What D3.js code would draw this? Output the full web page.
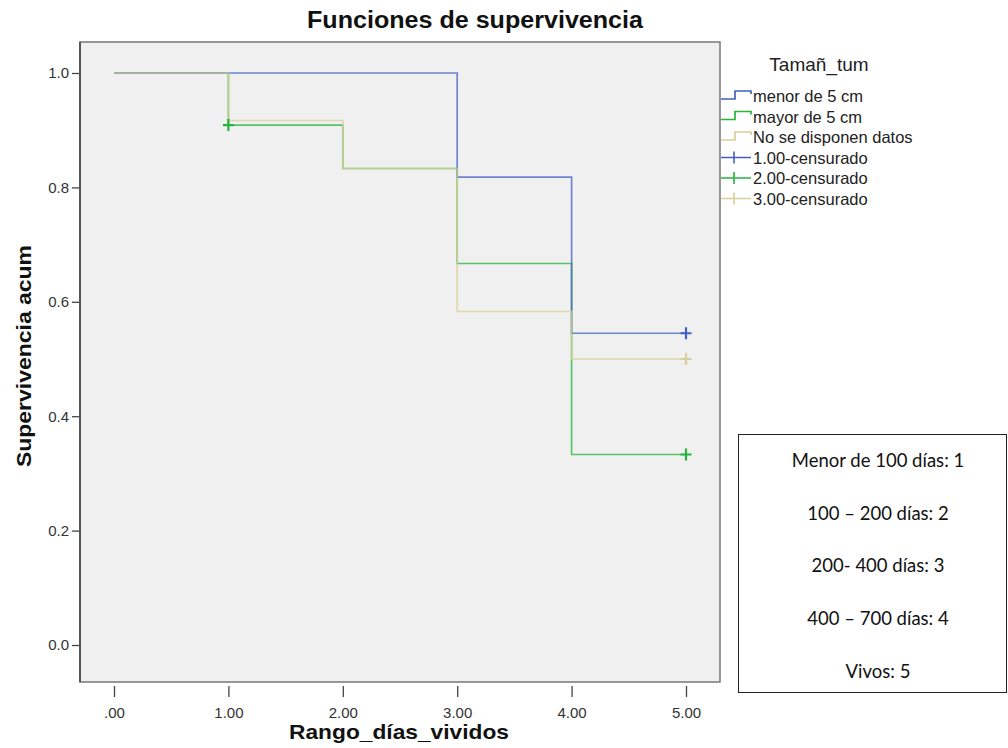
<!DOCTYPE html>
<html>
<head>
<meta charset="utf-8">
<script src="https://cdn.jsdelivr.net/npm/d3@7"></script>
<style>
  html, body { margin: 0; padding: 0; background: #fff; }
  svg { display: block; }
</style>
</head>
<body>
<svg id="chart" width="1008" height="748"></svg>
<script>
// Kaplan-Meier step values, one per interval start
const times = [0, 1, 2, 3, 4, 5];
const survMenor = [1, 1, 1, 0.818, 0.545, 0.545];
const survMayor = [1, 0.909, 0.833, 0.667, 0.333, 0.333];
const survNoDatos = [1, 0.917, 0.833, 0.583, 0.5, 0.5];

// censored observations [time, survival]
const censMenor = [[5, 0.545]];
const censMayor = [[1, 0.909], [5, 0.333]];
const censNoDatos = [[5, 0.5]];

const xTicks = [0, 1, 2, 3, 4, 5];
const xTickLabels = [".00", "1.00", "2.00", "3.00", "4.00", "5.00"];
const yTicks = [0, 0.2, 0.4, 0.6, 0.8, 1.0];
const yTickLabels = ["0.0", "0.2", "0.4", "0.6", "0.8", "1.0"];

const legendNames = ["menor de 5 cm", "mayor de 5 cm", "No se disponen datos",
                     "1.00-censurado", "2.00-censurado", "3.00-censurado"];
const boxLines = ["Menor de 100 días: 1", "100 – 200 días: 2", "200- 400 días: 3",
                  "400 – 700 días: 4", "Vivos: 5"];

const colBlue = "#4260c2", colGreen = "#25b53c", colTan = "#d8cf9a";

const svg = d3.select("#chart");
const plot = { left: 80, right: 720, top: 42, bottom: 682 };

const x = d3.scaleLinear().domain([0, 5]).range([114, 686]);
const y = d3.scaleLinear().domain([0, 1]).range([645, 73]);

const font = "'Liberation Sans', Arial, sans-serif";

// plot background and frame
svg.append("rect")
  .attr("x", plot.left).attr("y", plot.top)
  .attr("width", plot.right - plot.left).attr("height", plot.bottom - plot.top)
  .attr("fill", "#f0f0f0").attr("stroke", "#777").attr("stroke-width", 1.5);
svg.append("line")
  .attr("x1", plot.left).attr("x2", plot.left)
  .attr("y1", plot.top).attr("y2", plot.bottom)
  .attr("stroke", "#555").attr("stroke-width", 2);

// y axis
const yAxis = d3.axisLeft(y).tickValues(yTicks)
  .tickFormat((d, i) => yTickLabels[i]).tickSize(7).tickSizeOuter(0).tickPadding(3);
const gy = svg.append("g").attr("transform", `translate(${plot.left - 1},0)`).call(yAxis);
gy.select(".domain").remove();
gy.selectAll("line").attr("stroke", "#444").attr("stroke-width", 1.3);
gy.selectAll("text").attr("font-family", font).attr("font-size", 15).attr("fill", "#333");

// x axis
const xAxis = d3.axisBottom(x).tickValues(xTicks)
  .tickFormat((d, i) => xTickLabels[i]).tickSize(11).tickSizeOuter(0).tickPadding(10);
const gx = svg.append("g").attr("transform", `translate(0,${plot.bottom + 4})`).call(xAxis);
gx.select(".domain").remove();
gx.selectAll("line").attr("stroke", "#444").attr("stroke-width", 1.3);
gx.selectAll("text").attr("font-family", font).attr("font-size", 15).attr("fill", "#333");

// titles
svg.append("text").attr("x", 475).attr("y", 28).attr("text-anchor", "middle")
  .attr("font-family", font).attr("font-weight", "bold").attr("font-size", 23)
  .attr("textLength", 336).attr("lengthAdjust", "spacingAndGlyphs")
  .attr("fill", "#111").text("Funciones de supervivencia");
svg.append("text").attr("x", 399).attr("y", 739).attr("text-anchor", "middle")
  .attr("font-family", font).attr("font-weight", "bold").attr("font-size", 20.5)
  .attr("textLength", 220).attr("lengthAdjust", "spacingAndGlyphs")
  .attr("fill", "#111").text("Rango_días_vividos");
svg.append("text").attr("transform", "translate(31,356) rotate(-90)")
  .attr("text-anchor", "middle")
  .attr("font-family", font).attr("font-weight", "bold").attr("font-size", 20.5)
  .attr("textLength", 222).attr("lengthAdjust", "spacingAndGlyphs")
  .attr("fill", "#111").text("Supervivencia acum");

// survival curves
const step = d3.line().x(d => x(d[0])).y(d => y(d[1])).curve(d3.curveStepAfter);
const series = [
  { vals: survMayor, col: colGreen, cens: censMayor },
  { vals: survMenor, col: colBlue, cens: censMenor },
  { vals: survNoDatos, col: colTan, cens: censNoDatos }
];
series.forEach(s => {
  svg.append("path")
    .datum(times.map((t, i) => [t, s.vals[i]]))
    .attr("d", step).attr("fill", "none")
    .attr("stroke", s.col).attr("stroke-width", 1.7).attr("stroke-opacity", 0.75);
});
series.forEach(s => {
  s.cens.forEach(c => {
    const cx = x(c[0]), cy = y(c[1]);
    svg.append("path")
      .attr("d", `M${cx - 5.5},${cy}H${cx + 5.5}M${cx},${cy - 6}V${cy + 6}`)
      .attr("stroke", s.col).attr("stroke-width", 2.2).attr("fill", "none");
  });
});

// legend
svg.append("text").attr("x", 819).attr("y", 71).attr("text-anchor", "middle")
  .attr("font-family", font).attr("font-size", 19).attr("fill", "#222").text("Tamañ_tum");
const legCols = [colBlue, colGreen, colTan, colBlue, colGreen, colTan];
const legBase = [102, 122.5, 143, 163.5, 184, 204.5];
legendNames.forEach((name, i) => {
  const by = legBase[i];
  const g = svg.append("g");
  if (i < 3) {
    g.append("path")
      .attr("d", `M721,${by - 3}H735V${by - 11}H751V${by - 8}`)
      .attr("fill", "none").attr("stroke", legCols[i]).attr("stroke-width", 1.7);
  } else {
    g.append("path")
      .attr("d", `M721,${by - 6}H751M734,${by - 12}V${by}`)
      .attr("fill", "none").attr("stroke", legCols[i]).attr("stroke-width", 1.6);
  }
  g.append("text").attr("x", 753).attr("y", by)
    .attr("font-family", font).attr("font-size", 16.5).attr("fill", "#222").text(name);
});

// interval key box
svg.append("rect").attr("x", 738.5).attr("y", 434.5).attr("width", 268).attr("height", 258)
  .attr("fill", "#fff").attr("stroke", "#222").attr("stroke-width", 1);
const boxBase = [467, 520, 572, 625, 678];
boxLines.forEach((t, i) => {
  svg.append("text").attr("x", 878).attr("y", boxBase[i]).attr("text-anchor", "middle")
    .attr("font-family", "Lato, 'Open Sans', sans-serif").attr("font-size", 18.5)
    .attr("fill", "#111").text(t);
});
</script>
</body>
</html>
